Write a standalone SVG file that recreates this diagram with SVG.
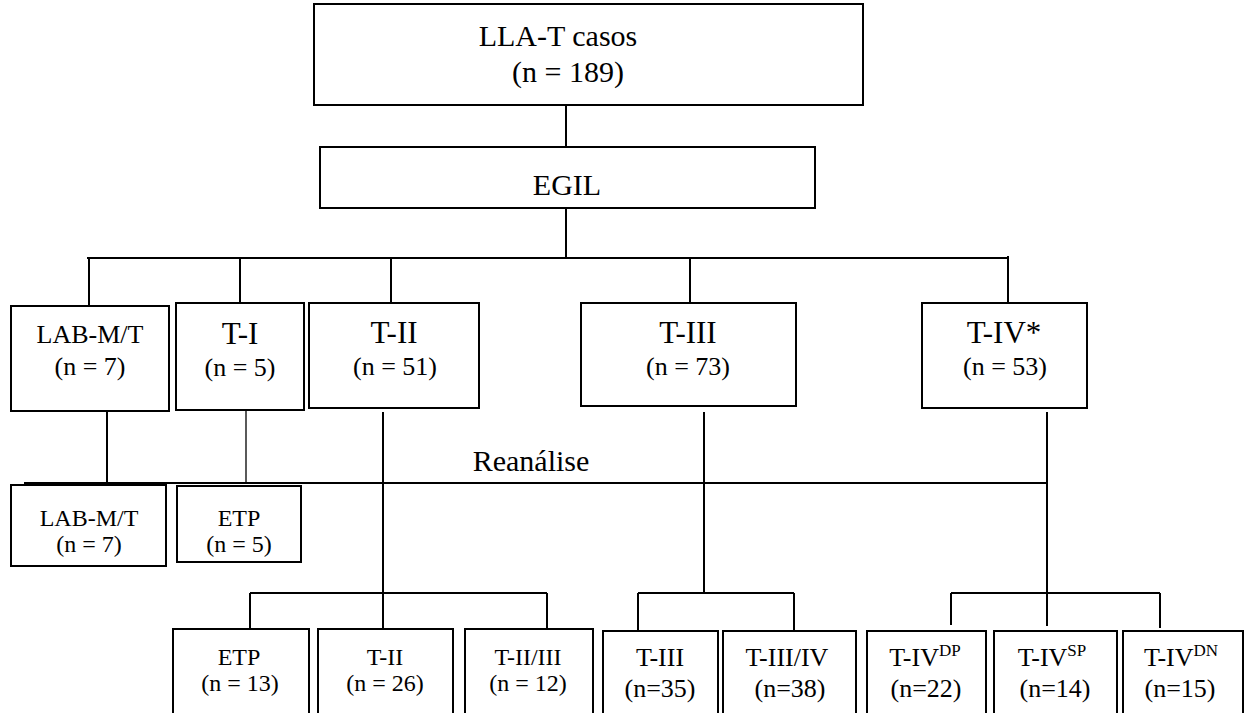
<svg xmlns="http://www.w3.org/2000/svg" width="1245" height="713" viewBox="0 0 1245 713" font-family="Liberation Serif, Times New Roman, serif">
<style>
rect{fill:#fff;stroke:#000;stroke-width:2}
line{stroke:#000;stroke-width:2}
line.thin{stroke-width:1.3}
text{fill:#000;text-anchor:middle}
.t30{font-size:30px}
.t31{font-size:31px}
.t26{font-size:26px}
.t24{font-size:24px}
.sup{font-size:17px}
</style>
<g id="connectors">
<line x1="566" y1="105" x2="566" y2="147"/>
<line x1="566" y1="208" x2="566" y2="258"/>
<line x1="87" y1="258" x2="1008" y2="258"/>
<line x1="89" y1="258" x2="89" y2="306"/>
<line x1="240" y1="258" x2="240" y2="303"/>
<line x1="391" y1="258" x2="391" y2="303"/>
<line x1="690" y1="258" x2="690" y2="303"/>
<line x1="1008" y1="256" x2="1008" y2="303"/>
<line x1="107" y1="411" x2="107" y2="484"/>
<line class="thin" x1="246" y1="410" x2="246" y2="483"/>
<line x1="383" y1="412" x2="383" y2="629"/>
<line x1="704" y1="412" x2="704" y2="593"/>
<line x1="1047" y1="412" x2="1047" y2="626"/>
<line x1="24" y1="483" x2="1047" y2="483"/>
<line x1="250" y1="593" x2="547" y2="593"/>
<line x1="250" y1="593" x2="250" y2="629"/>
<line x1="547" y1="593" x2="547" y2="629"/>
<line x1="638" y1="593" x2="794" y2="593"/>
<line x1="638" y1="593" x2="638" y2="631"/>
<line x1="794" y1="593" x2="794" y2="631"/>
<line x1="951" y1="593" x2="1160" y2="593"/>
<line x1="951" y1="593" x2="951" y2="625"/>
<line x1="1160" y1="593" x2="1160" y2="628"/>
</g>
<g id="root">
<rect x="314" y="4" width="549" height="101"/>
<text class="t30" x="558" y="46">LLA-T casos</text>
<text class="t30" x="568" y="82">(n = 189)</text>
</g>
<g id="egil">
<rect x="320" y="147" width="495" height="61"/>
<text class="t30" x="567" y="195">EGIL</text>
</g>
<g id="labmt1">
<rect x="11" y="306" width="158" height="105"/>
<text class="t26" x="90" y="343">LAB-M/T</text>
<text class="t26" x="90" y="375">(n = 7)</text>
</g>
<g id="ti">
<rect x="176" y="303" width="128" height="107"/>
<text class="t31" x="240" y="344">T-I</text>
<text class="t26" x="240" y="376">(n = 5)</text>
</g>
<g id="tii">
<rect x="309" y="303" width="170" height="105"/>
<text class="t31" x="394" y="343">T-II</text>
<text class="t26" x="395" y="375">(n = 51)</text>
</g>
<g id="tiii">
<rect x="581" y="303" width="215" height="103"/>
<text class="t31" x="688" y="343">T-III</text>
<text class="t26" x="688" y="375">(n = 73)</text>
</g>
<g id="tiv">
<rect x="922" y="303" width="165" height="105"/>
<text class="t31" x="1004" y="343">T-IV*</text>
<text class="t26" x="1005" y="375">(n = 53)</text>
</g>
<g id="reanalise">
<text class="t30" x="531" y="471">Reanálise</text>
</g>
<g id="labmt2">
<rect x="11" y="485" width="155" height="81"/>
<text class="t24" x="89" y="526">LAB-M/T</text>
<text class="t24" x="89" y="552">(n = 7)</text>
</g>
<g id="etp1">
<rect x="177" y="486" width="124" height="76"/>
<text class="t24" x="239" y="526">ETP</text>
<text class="t24" x="239" y="552">(n = 5)</text>
</g>
<g id="etp2">
<rect x="173" y="629" width="136" height="90"/>
<text class="t24" x="239" y="665">ETP</text>
<text class="t24" x="240" y="691">(n = 13)</text>
</g>
<g id="tii2">
<rect x="318" y="629" width="135" height="90"/>
<text class="t24" x="385" y="665">T-II</text>
<text class="t24" x="385" y="691">(n = 26)</text>
</g>
<g id="tiiiii">
<rect x="465" y="629" width="128" height="90"/>
<text class="t24" x="528" y="665">T-II/III</text>
<text class="t24" x="528" y="691">(n = 12)</text>
</g>
<g id="tiii2">
<rect x="603" y="631" width="115" height="90"/>
<text class="t26" x="660" y="666">T-III</text>
<text class="t26" x="660" y="697">(n=35)</text>
</g>
<g id="tiiiiv">
<rect x="723" y="631" width="133" height="90"/>
<text class="t26" x="787" y="666">T-III/IV</text>
<text class="t26" x="790" y="697">(n=38)</text>
</g>
<g id="tivdp">
<rect x="867" y="631" width="119" height="90"/>
<text class="t26" x="925" y="666">T-IV<tspan class="sup" dy="-10">DP</tspan></text>
<text class="t26" x="926" y="697">(n=22)</text>
</g>
<g id="tivsp">
<rect x="994" y="631" width="123" height="90"/>
<text class="t26" x="1052" y="666">T-IV<tspan class="sup" dy="-10">SP</tspan></text>
<text class="t26" x="1055" y="697">(n=14)</text>
</g>
<g id="tivdn">
<rect x="1123" y="631" width="120" height="90"/>
<text class="t26" x="1181" y="666">T-IV<tspan class="sup" dy="-10">DN</tspan></text>
<text class="t26" x="1180" y="697">(n=15)</text>
</g>
</svg>
